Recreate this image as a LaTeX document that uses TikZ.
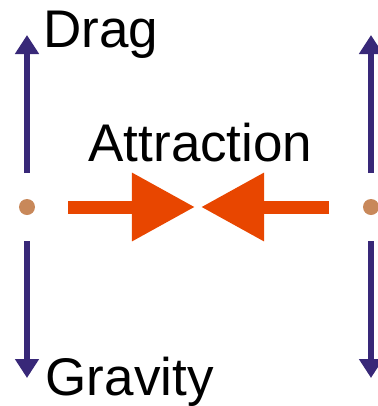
\documentclass[tikz,border=0pt]{standalone}
\usepackage{fontspec}
\setmainfont{Liberation Sans}
\usetikzlibrary{arrows.meta}
\definecolor{forcepurple}{RGB}{56,40,120}
\definecolor{attractorange}{RGB}{232,70,0}
\definecolor{massdot}{RGB}{200,136,90}
\begin{document}
\begin{tikzpicture}[x=1bp,y=-1bp,
  vforce/.style={draw=forcepurple, line width=5.5bp, -{Triangle[length=19bp,width=23bp]}},
  hforce/.style={draw=attractorange, line width=13bp, -{Triangle[length=63bp,width=65bp]}},
  mass/.style={circle, fill=massdot, minimum size=16bp, inner sep=0pt},
  lbl/.style={font=\fontsize{53bp}{60bp}\selectfont, inner sep=0pt}]
\useasboundingbox (0,0) rectangle (378,406);
% masses
\node[mass] (m1) at (27,207) {};
\node[mass] (m2) at (371,207) {};
% coordinates
\coordinate (l1s) at (27,173);
\coordinate (l1e) at (27,35);
\coordinate (l2s) at (27,241);
\coordinate (l2e) at (27,378);
\coordinate (r1s) at (371,173);
\coordinate (r1e) at (371,35);
\coordinate (r2s) at (371,241);
\coordinate (r2e) at (371,378);
\coordinate (a1s) at (68,207);
\coordinate (a1e) at (195,207);
\coordinate (a2s) at (329,207);
\coordinate (a2e) at (201,207);
% vertical forces
\draw[vforce] (l1s) -- (l1e);
\draw[vforce] (l2s) -- (l2e);
\draw[vforce] (r1s) -- (r1e);
\draw[vforce] (r2s) -- (r2e);
% attraction
\draw[hforce] (a1s) -- (a1e);
\draw[hforce] (a2s) -- (a2e);
% labels
\node[lbl, anchor=base west] (drag) at (43,47.5) {Drag};
\node[lbl, anchor=base] (attr) at (200.5,161) {Attraction};
\node[lbl, anchor=base west] (grav) at (45.5,395) {Gravity};
\end{tikzpicture}
\end{document}
